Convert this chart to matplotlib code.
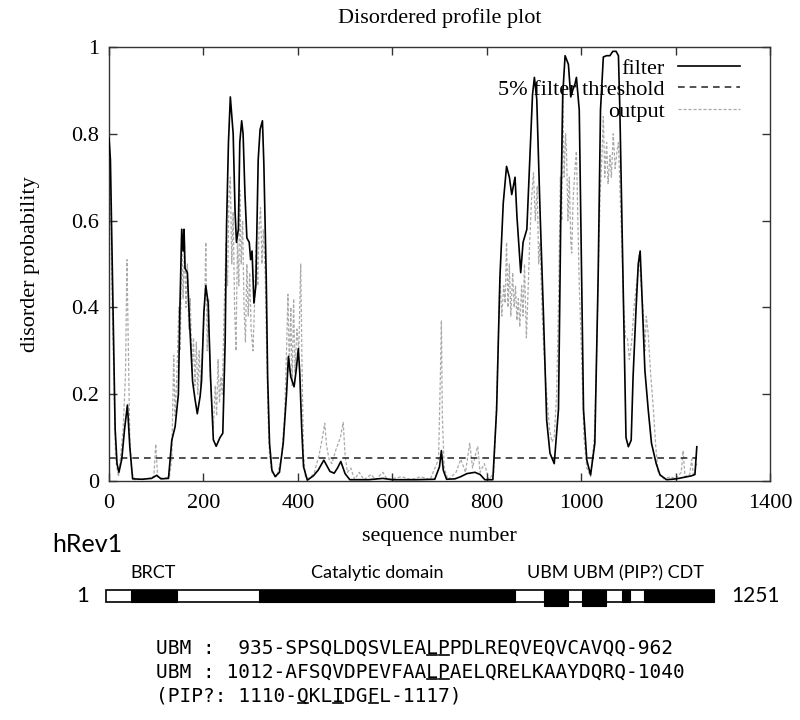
import matplotlib
matplotlib.use('Agg')
import matplotlib.pyplot as plt
from matplotlib.lines import Line2D
from matplotlib.patches import Rectangle

# ---- data ----
filter_x = [0, 3, 6, 9, 13, 17, 21, 27, 33, 39, 44, 50, 70, 90, 101, 110, 126, 133, 140, 147,
            150, 154, 157, 159, 161, 166, 170, 177, 182, 187, 190, 193, 196, 201, 205, 210, 215,
            221, 227, 235, 241, 246, 249, 253, 257, 263, 267, 270, 274, 277, 281, 284, 288, 292,
            297, 300, 303, 307, 311, 316, 320, 325, 328, 333, 336, 340, 345, 352, 361, 369, 376,
            380, 385, 392, 397, 401, 404, 408, 412, 420, 433, 443, 455, 468, 477, 484, 491, 500,
            510, 550, 580, 600, 650, 690, 700, 704, 708, 715, 733, 745, 758, 775, 786, 796, 813,
            821, 828, 835, 842, 848, 853, 860, 864, 869, 872, 877, 885, 892, 897, 901, 906, 913,
            920, 927, 934, 943, 952, 957, 961, 966, 973, 978, 982, 987, 990, 996, 1001, 1005,
            1012, 1020, 1029, 1036, 1041, 1047, 1054, 1061, 1067, 1074, 1079, 1082, 1086, 1091,
            1095, 1100, 1106, 1110, 1116, 1121, 1125, 1128, 1135, 1142, 1149, 1159, 1167, 1181,
            1202, 1216, 1234, 1241, 1245]
filter_y = [0.79, 0.74, 0.55, 0.35, 0.12, 0.04, 0.02, 0.05, 0.12, 0.175, 0.08, 0.005, 0.004, 0.006,
            0.013, 0.005, 0.006, 0.094, 0.125, 0.2, 0.39, 0.58, 0.53, 0.58, 0.49, 0.48, 0.38, 0.23,
            0.19, 0.155, 0.175, 0.195, 0.23, 0.39, 0.45, 0.41, 0.24, 0.095, 0.08, 0.10, 0.11, 0.32,
            0.59, 0.78, 0.885, 0.80, 0.62, 0.55, 0.58, 0.78, 0.83, 0.80, 0.66, 0.56, 0.55, 0.51,
            0.53, 0.41, 0.45, 0.74, 0.81, 0.83, 0.73, 0.47, 0.24, 0.087, 0.025, 0.01, 0.02, 0.087,
            0.2, 0.287, 0.24, 0.217, 0.26, 0.305, 0.25, 0.125, 0.033, 0.002, 0.012, 0.025, 0.048,
            0.022, 0.018, 0.03, 0.045, 0.017, 0.003, 0.003, 0.006, 0.003, 0.003, 0.004, 0.033, 0.07,
            0.025, 0.004, 0.005, 0.01, 0.017, 0.02, 0.015, 0.003, 0.003, 0.165, 0.47, 0.64, 0.725,
            0.70, 0.66, 0.70, 0.61, 0.53, 0.48, 0.55, 0.58, 0.76, 0.89, 0.93, 0.88, 0.62, 0.39, 0.14,
            0.064, 0.04, 0.165, 0.62, 0.89, 0.98, 0.96, 0.885, 0.90, 0.915, 0.93, 0.855, 0.47, 0.165,
            0.048, 0.014, 0.087, 0.47, 0.855, 0.977, 0.98, 0.98, 0.99, 0.99, 0.98, 0.855, 0.62,
            0.318, 0.10, 0.079, 0.094, 0.24, 0.39, 0.50, 0.53, 0.45, 0.255, 0.165, 0.087, 0.04,
            0.014, 0.003, 0.005, 0.008, 0.012, 0.015, 0.079]

output_x = [0, 3, 6, 10, 14, 20, 25, 30, 35, 38, 41, 44, 48, 55, 80, 95, 99, 103, 115, 128, 133,
            137, 140, 144, 148, 151, 154, 157, 160, 163, 166, 169, 172, 176, 179, 182, 185, 188,
            191, 194, 197, 200, 203, 205, 208, 211, 214, 218, 221, 225, 228, 231, 234, 237, 240,
            244, 248, 251, 254, 257, 260, 263, 266, 269, 272, 275, 277, 280, 283, 286, 289, 292,
            295, 298, 301, 305, 308, 312, 315, 318, 321, 324, 327, 331, 334, 337, 340, 345, 355,
            365, 372, 376, 379, 382, 385, 388, 391, 394, 398, 402, 406, 409, 412, 416, 425, 435,
            445, 452, 457, 461, 466, 472, 480, 490, 496, 500, 505, 512, 520, 530, 540, 555, 565,
            580, 590, 620, 640, 660, 680, 698, 702, 704, 706, 710, 718, 735, 745, 755, 764, 770,
            776, 781, 786, 795, 805, 815, 820, 825, 828, 832, 836, 839, 842, 845, 848, 851, 855,
            858, 861, 864, 867, 870, 874, 877, 880, 884, 888, 891, 895, 899, 903, 907, 910, 913,
            917, 921, 927, 933, 938, 943, 948, 952, 956, 959, 961, 964, 967, 969, 972, 975, 978,
            980, 983, 987, 990, 993, 996, 998, 1002, 1006, 1012, 1020, 1028, 1033, 1037, 1040,
            1044, 1047, 1050, 1054, 1057, 1061, 1064, 1068, 1072, 1076, 1079, 1083, 1086, 1090,
            1094, 1098, 1102, 1107, 1112, 1117, 1120, 1123, 1127, 1131, 1135, 1138, 1142, 1147,
            1153, 1158, 1163, 1175, 1190, 1200, 1212, 1216, 1220, 1230, 1234, 1238, 1245]
output_y = [0.62, 0.70, 0.45, 0.25, 0.05, 0.01, 0.06, 0.12, 0.25, 0.51, 0.30, 0.10, 0.02, 0.003,
            0.005, 0.01, 0.085, 0.01, 0.005, 0.01, 0.05, 0.29, 0.15, 0.25, 0.40, 0.30, 0.58, 0.42,
            0.55, 0.40, 0.50, 0.35, 0.42, 0.25, 0.33, 0.22, 0.32, 0.20, 0.30, 0.22, 0.28, 0.35,
            0.42, 0.55, 0.30, 0.42, 0.25, 0.17, 0.12, 0.22, 0.15, 0.28, 0.18, 0.24, 0.20, 0.40,
            0.55, 0.45, 0.65, 0.70, 0.50, 0.62, 0.40, 0.30, 0.55, 0.45, 0.67, 0.50, 0.60, 0.40,
            0.32, 0.50, 0.38, 0.48, 0.35, 0.30, 0.40, 0.55, 0.45, 0.59, 0.63, 0.50, 0.58, 0.47,
            0.30, 0.15, 0.06, 0.02, 0.01, 0.05, 0.15, 0.30, 0.43, 0.25, 0.40, 0.22, 0.42, 0.25,
            0.35, 0.30, 0.50, 0.25, 0.06, 0.01, 0.005, 0.02, 0.06, 0.10, 0.133, 0.08, 0.05, 0.04,
            0.07, 0.10, 0.135, 0.06, 0.02, 0.03, 0.004, 0.02, 0.003, 0.015, 0.003, 0.02, 0.003,
            0.01, 0.003, 0.01, 0.003, 0.05, 0.25, 0.37, 0.15, 0.03, 0.003, 0.02, 0.05, 0.02, 0.087,
            0.03, 0.06, 0.08, 0.02, 0.04, 0.003, 0.02, 0.15, 0.35, 0.47, 0.38, 0.45, 0.41, 0.55,
            0.40, 0.50, 0.38, 0.48, 0.40, 0.45, 0.37, 0.42, 0.355, 0.45, 0.38, 0.50, 0.33, 0.45,
            0.55, 0.65, 0.71, 0.60, 0.68, 0.50, 0.55, 0.40, 0.30, 0.20, 0.12, 0.09, 0.10, 0.20,
            0.40, 0.70, 0.60, 0.89, 0.70, 0.80, 0.76, 0.60, 0.70, 0.55, 0.525, 0.65, 0.72, 0.76,
            0.60, 0.45, 0.39, 0.25, 0.10, 0.03, 0.01, 0.10, 0.30, 0.50, 0.655, 0.75, 0.84, 0.70,
            0.78, 0.685, 0.75, 0.70, 0.80, 0.72, 0.76, 0.78, 0.65, 0.55, 0.40, 0.33, 0.33, 0.28,
            0.32, 0.40, 0.45, 0.48, 0.52, 0.45, 0.40, 0.30, 0.38, 0.34, 0.25, 0.165, 0.08, 0.02,
            0.005, 0.01, 0.005, 0.02, 0.07, 0.01, 0.015, 0.05, 0.01, 0.04]

threshold = 0.053
seq_end = 1245

xticks = [0, 200, 400, 600, 800, 1000, 1200, 1400]
yticks = [0, 0.2, 0.4, 0.6, 0.8, 1.0]
ytick_labels = ['0', '0.2', '0.4', '0.6', '0.8', '1']

# ---- domain map of hRev1 (residue ranges) ----
seq_length = 1251
domain_starts = [52, 315, 901, 980, 1062, 1107]
domain_ends = [147, 841, 950, 1029, 1078, 1251]
domain_is_ubm = [False, False, True, True, False, False]

seq_lines = ['UBM :  935-SPSQLDQSVLEALPPDLREQVEQVCAVQQ-962',
             'UBM : 1012-AFSQVDPEVFAALPAELQRELKAAYDQRQ-1040',
             '(PIP?: 1110-QKLIDGFL-1117)']
seq_underlined = [[23, 24], [23, 24], [12, 15, 18]]

W, H = 800, 720
fig = plt.figure(figsize=(8, 7.2), dpi=100)
serif = ['Liberation Serif', 'DejaVu Serif']
sans = ['Lato', 'DejaVu Sans']
mono = ['DejaVu Sans Mono']

ax = fig.add_axes([109 / W, 1 - 481 / H, 661 / W, 434 / H])
ax.plot(filter_x, filter_y, color='black', lw=1.2, label='filter', zorder=3)
ax.plot([0, seq_end], [threshold, threshold], color='#333333', lw=1.2,
        dashes=(4, 3), label='5% filter threshold', zorder=2)
ax.plot(output_x, output_y, color='#aaaaaa', lw=0.9, dashes=(2.5, 1.5),
        label='output', zorder=1)

ax.set_xlim(0, 1400)
ax.set_ylim(0, 1)
ax.set_xticks(xticks)
ax.set_yticks(yticks)
ax.set_yticklabels(ytick_labels)
ax.tick_params(direction='in', length=6, width=1, color='#333333', top=True, right=True,
               labelsize=16)
ax.tick_params(axis='x', pad=9)
ax.tick_params(axis='y', pad=7)
for lab in ax.get_xticklabels() + ax.get_yticklabels():
    lab.set_family(serif)
for sp in ax.spines.values():
    sp.set_color('#333333')
    sp.set_linewidth(1)

ax.set_title('Disordered profile plot', family=serif, fontsize=16, pad=17)
ax.set_xlabel('sequence number', family=serif, fontsize=16)
ax.xaxis.set_label_coords(0.5, (481 - 537) / 434)
ax.xaxis.label.set_va('center')
ax.set_ylabel('disorder probability', family=serif, fontsize=16)
ax.yaxis.set_label_coords((30 - 109) / 661, 0.5)
ax.yaxis.label.set_va('center')

ax.legend(loc='upper right', bbox_to_anchor=(740 / W, 1 - 58 / H),
          bbox_transform=fig.transFigure, frameon=False, markerfirst=False,
          handlelength=2.8, handletextpad=0.6, labelspacing=0.05, borderpad=0,
          borderaxespad=0, prop={'family': serif, 'size': 16})

# ---- domain bar ----
bx = fig.add_axes([106 / W, 1 - 602 / H, 608 / W, 12 / H])
bx.set_xlim(1, seq_length)
bx.set_ylim(0, 1)
bx.axis('off')
bx.add_patch(Rectangle((1, 0), seq_length - 1, 1, facecolor='white', edgecolor='black',
                       lw=1.2, clip_on=False))
for s, e, ubm in zip(domain_starts, domain_ends, domain_is_ubm):
    y0 = -0.3 if ubm else 0
    bx.add_patch(Rectangle((s, y0), e - s, 1 - y0, facecolor='black', edgecolor='black',
                           lw=0.8, clip_on=False))

fig.text(52 / W, 1 - 544 / H, 'hRev1', family=sans, fontsize=18, va='center', ha='left')
fig.text(83 / W, 1 - 596 / H, '1', family=sans, fontsize=16, va='center', ha='center')
fig.text(731 / W, 1 - 596 / H, '1251', family=sans, fontsize=15, va='center', ha='left')
fig.text(153 / W, 1 - 573 / H, 'BRCT', family=sans, fontsize=13, va='center', ha='center')
fig.text(377 / W, 1 - 573 / H, 'Catalytic domain', family=sans, fontsize=13, va='center',
         ha='center')
fig.text(527 / W, 1 - 573 / H, 'UBM UBM (PIP?) CDT', family=sans, fontsize=13, va='center',
         ha='left')

# ---- sequence motifs ----
seq_texts = []
for i, line in enumerate(seq_lines):
    t = fig.text(156 / W, 1 - (648 + 24 * i) / H, line, family=mono, fontsize=14,
                 va='center', ha='left')
    seq_texts.append(t)

fig.canvas.draw()
renderer = fig.canvas.get_renderer()
for t, idxs in zip(seq_texts, seq_underlined):
    bb = t.get_window_extent(renderer)
    cw = bb.width / len(t.get_text())
    for i in idxs:
        x0 = bb.x0 + i * cw + 1
        x1 = x0 + cw - 2
        y = bb.y0 + 3
        fig.add_artist(Line2D([x0 / W, x1 / W], [y / H, y / H], transform=fig.transFigure,
                              color='black', lw=1.2))

fig.savefig('out.png', dpi=100)
